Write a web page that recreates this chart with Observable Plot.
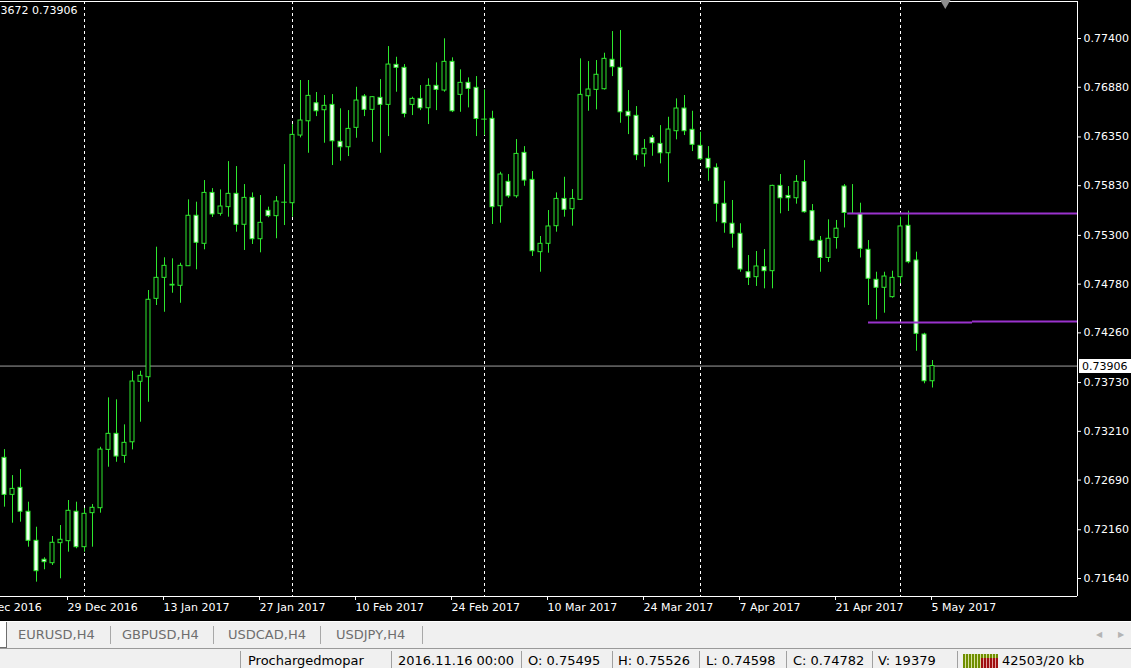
<!DOCTYPE html>
<html><head><meta charset="utf-8">
<script src="https://cdn.jsdelivr.net/npm/d3@7"></script>
<script src="https://cdn.jsdelivr.net/npm/@observablehq/plot@0.6"></script>
<style>
html,body{margin:0;padding:0;background:#000;overflow:hidden;width:1131px;height:668px;}
#chart{position:absolute;left:0;top:0;width:1131px;height:621px;background:#000;}
#tabs{position:absolute;left:0;top:621px;width:1131px;height:27px;background:#f0f0f0;font-family:"DejaVu Sans",sans-serif;font-size:13px;color:#6e6e6e;border-top:1px solid #ffffff;box-sizing:border-box;}
#tabs span{position:absolute;top:0;line-height:25px;white-space:nowrap;}
#tabs .sep{position:absolute;top:4px;width:1px;height:18px;background:#a8a8a8;}
#tabs .active{position:absolute;left:0;top:0;width:6px;height:25px;background:#fff;border-right:1px solid #6e6e6e;border-bottom:1px solid #6e6e6e;}
#tabs .arr{color:#b4b4b4;font-size:8px;}
#status{position:absolute;left:0;top:648px;width:1131px;height:20px;background:#f0f0f0;border-top:1px solid #9a9a9a;box-sizing:border-box;font-family:"DejaVu Sans",sans-serif;font-size:13px;color:#000;overflow:hidden;}
#status span{position:absolute;top:4px;line-height:15px;white-space:nowrap;}
#status .sep{position:absolute;top:2px;width:1px;height:20px;background:#a0a0a0;}
#status .icon{position:absolute;left:963px;top:5px;width:35px;height:15px;background:repeating-linear-gradient(90deg,#6f8f00 0 2px,#d8e0a0 2px 3px);}
#status .icon2{position:absolute;left:981px;top:9px;width:17px;height:11px;background:repeating-linear-gradient(90deg,#a01010 0 2px,#e0a0a0 2px 3px);}
</style></head>
<body>
<div id="chart"></div>
<div id="tabs">
  <div class="active"></div>
  <span style="left:18px">EURUSD,H4</span><div class="sep" style="left:110px"></div>
  <span style="left:122px">GBPUSD,H4</span><div class="sep" style="left:213px"></div>
  <span style="left:228px">USDCAD,H4</span><div class="sep" style="left:320px"></div>
  <span style="left:336px">USDJPY,H4</span><div class="sep" style="left:422px"></div>
  <span class="arr" style="left:1096px">◀</span><span class="arr" style="left:1118px">▶</span>
</div>
<div id="status">
  <div class="sep" style="left:240px"></div>
  <span style="left:248px">Prochargedmopar</span><div class="sep" style="left:391px"></div>
  <span style="left:398px">2016.11.16 00:00</span><div class="sep" style="left:521px"></div>
  <span style="left:528px">O: 0.75495</span><div class="sep" style="left:612px"></div>
  <span style="left:618px">H: 0.75526</span><div class="sep" style="left:699px"></div>
  <span style="left:706px">L: 0.74598</span><div class="sep" style="left:786px"></div>
  <span style="left:793px">C: 0.74782</span><div class="sep" style="left:872px"></div>
  <span style="left:878px">V: 19379</span><div class="sep" style="left:957px"></div>
  <div class="icon"></div><div class="icon2"></div>
  <span style="left:1002px">42503/20 kb</span>
</div>
<script>
// ---- Daily AUDUSD candles (bar index 0..116) ----
const open = [0.72927,0.72532,0.72607,0.72352,0.72042,0.71840,0.71803,0.72017,0.72038,0.72352,
0.71974,0.72337,0.72390,0.73012,0.73183,0.72948,0.73093,0.73738,0.73787,0.74623,
0.74847,0.74765,0.74762,0.74971,0.75509,0.75210,0.75753,0.75530,0.75601,0.75743,
0.75413,0.75700,0.75259,0.75562,0.75505,0.75651,0.75643,0.76365,0.76517,0.76709,
0.76635,0.76692,0.76298,0.76240,0.76447,0.76781,0.76639,0.76767,0.76692,0.77119,
0.77087,0.76692,0.76756,0.76656,0.76895,0.76845,0.77151,0.76799,0.76927,0.76874,
0.76543,0.76543,0.75611,0.75871,0.75717,0.76180,0.75892,0.75121,0.75210,0.75398,
0.75689,0.75579,0.75679,0.76784,0.76852,0.76859,0.77173,0.77087,0.76618,0.76575,
0.76165,0.76340,0.76276,0.76176,0.76411,0.76653,0.76426,0.76255,0.76116,0.76020,
0.75637,0.75424,0.75317,0.74907,0.74854,0.74961,0.74918,0.75828,0.75721,0.75696,
0.75869,0.75558,0.75242,0.75059,0.75272,0.75821,0.75537,0.75530,0.75146,0.74826,
0.74741,0.74641,0.74854,0.75402,0.75032,0.74242,0.73744];
const high = [0.73015,0.72738,0.72802,0.72454,0.72187,0.71861,0.72088,0.72205,0.72472,0.72454,
0.72387,0.72429,0.73040,0.73567,0.73546,0.73279,0.73851,0.73851,0.74712,0.75174,
0.75061,0.75050,0.75003,0.75679,0.75654,0.75885,0.75799,0.75785,0.76087,0.76034,
0.75842,0.75753,0.75725,0.75601,0.75714,0.76055,0.76482,0.76952,0.76952,0.76824,
0.76792,0.76802,0.76650,0.76631,0.76880,0.76802,0.76781,0.76962,0.77314,0.77200,
0.77122,0.76774,0.76898,0.76970,0.77140,0.77397,0.77194,0.77066,0.76980,0.76994,
0.76852,0.76624,0.75973,0.75949,0.76322,0.76247,0.75981,0.75288,0.75565,0.75753,
0.75920,0.75789,0.77183,0.77154,0.77165,0.77243,0.77474,0.77485,0.76845,0.76674,
0.76322,0.76365,0.76471,0.76560,0.76756,0.76792,0.76624,0.76400,0.76247,0.76063,
0.75877,0.75672,0.75424,0.75085,0.75128,0.75149,0.75835,0.75949,0.75821,0.75938,
0.76098,0.75629,0.75288,0.75466,0.75459,0.75842,0.75842,0.75643,0.75245,0.74907,
0.74907,0.74918,0.75494,0.75558,0.75121,0.74256,0.73965];
const low = [0.72401,0.72230,0.72241,0.71974,0.71601,0.71733,0.71779,0.71637,0.71921,0.71957,
0.71921,0.71974,0.72337,0.72827,0.72880,0.72869,0.73012,0.73307,0.73520,0.74552,
0.74480,0.74683,0.74576,0.74968,0.74933,0.75146,0.75491,0.75505,0.75494,0.75334,
0.75139,0.75203,0.75114,0.75488,0.75264,0.75405,0.75494,0.76340,0.76176,0.76567,
0.76283,0.76045,0.76091,0.76141,0.76336,0.76567,0.76293,0.76176,0.76354,0.76827,
0.76554,0.76578,0.76631,0.76482,0.76631,0.76827,0.76610,0.76613,0.76660,0.76354,
0.76365,0.75416,0.75430,0.75696,0.75696,0.75824,0.75075,0.74907,0.75110,0.75334,
0.75494,0.75398,0.75672,0.76624,0.76639,0.76850,0.76994,0.76496,0.76375,0.76098,
0.76027,0.76144,0.76063,0.75863,0.76319,0.76365,0.76194,0.76098,0.75877,0.75441,
0.75323,0.75163,0.74907,0.74765,0.74755,0.74730,0.74730,0.75530,0.75555,0.75633,
0.75537,0.75236,0.74907,0.75011,0.75153,0.75379,0.75530,0.75059,0.74552,0.74399,
0.74470,0.74630,0.74784,0.74997,0.74064,0.73717,0.73672];
const close = [0.72532,0.72596,0.72352,0.72042,0.71718,0.71814,0.72021,0.72053,0.72362,0.71974,
0.72330,0.72394,0.73015,0.73183,0.72941,0.73087,0.73741,0.73802,0.74613,0.74847,
0.74975,0.74773,0.74975,0.75509,0.75221,0.75753,0.75523,0.75608,0.75743,0.75413,
0.75700,0.75259,0.75434,0.75505,0.75661,0.75654,0.76372,0.76525,0.76788,0.76624,
0.76682,0.76304,0.76240,0.76436,0.76738,0.76639,0.76774,0.76692,0.77122,0.77087,
0.76596,0.76756,0.76656,0.76895,0.76852,0.77151,0.76624,0.76927,0.76863,0.76541,
0.76540,0.75601,0.75949,0.75717,0.76169,0.75885,0.75131,0.75210,0.75395,0.75689,
0.75573,0.75689,0.76799,0.76856,0.77013,0.77183,0.77094,0.76613,0.76571,0.76155,
0.76223,0.76283,0.76176,0.76429,0.76653,0.76411,0.76266,0.76112,0.76016,0.75637,
0.75430,0.75317,0.74936,0.74847,0.74968,0.74918,0.75828,0.75696,0.75696,0.75871,
0.75547,0.75245,0.75059,0.75264,0.75371,0.75539,0.75535,0.75157,0.74837,0.74741,
0.74861,0.74847,0.75395,0.75014,0.74250,0.73744,0.73906];

// x axis labels (bar index where each date label sits)
const tickBars = [-4, 8, 20, 32, 44, 56, 68, 80, 92, 104, 116];
const tickLabels = ["15 Dec 2016","29 Dec 2016","13 Jan 2017","27 Jan 2017","10 Feb 2017","24 Feb 2017",
                    "10 Mar 2017","24 Mar 2017","7 Apr 2017","21 Apr 2017","5 May 2017"];
// price scale labels
const yTicks = [0.77400,0.76880,0.76350,0.75830,0.75300,0.74780,0.74260,0.73730,0.73210,0.72690,0.72160,0.71640];
// monthly period separators (bar index)
const separatorBars = [10, 36, 60, 87, 112];
// horizontal lines drawn on chart
const levelFrom = [105.4, 108, 121];
const levelTo = [134.125, 121, 134.125];
const levelPrice = [0.75533, 0.74371, 0.74381];
const bid = 0.73906;
const shiftBar = 117.6;
const ohlcText = "3672 0.73906";

const xDomain = [-0.5, 134.125];
const yDomain = [0.71448, 0.7779467];

const candles = open.map((o, i) => ({i, o, h: high[i], l: low[i], c: close[i]}));
const bodies = candles.filter(d => Math.abs(d.o - d.c) >= 0.00004);
const dojis = candles.filter(d => Math.abs(d.o - d.c) < 0.00004);
const levels = levelPrice.map((p, i) => ({p, from: levelFrom[i], to: levelTo[i]}));
const labelOf = new Map(tickBars.map((b, i) => [b, tickLabels[i]]));

const green = "#2ee82e";
const plot = Plot.plot({
  width: 1131, height: 621,
  marginLeft: 0, marginRight: 54, marginTop: 1, marginBottom: 25,
  style: {background: "#000", color: "#fff", fontFamily: "DejaVu Sans, sans-serif", fontSize: "11px", overflow: "hidden"},
  x: {type: "linear", domain: xDomain, axis: null},
  y: {type: "linear", domain: yDomain, axis: null},
  marks: [
    Plot.ruleX(separatorBars, {stroke: "#fff", strokeDasharray: "3,3"}),
    Plot.ruleY([bid], {stroke: "#a0a0a0"}),
    Plot.ruleX(candles, {x: "i", y1: "l", y2: "h", stroke: green}),
    Plot.rect(bodies, {x1: d => d.i - 0.25, x2: d => d.i + 0.25, y1: d => Math.max(d.o, d.c), y2: d => Math.min(d.o, d.c),
      fill: d => d.c > d.o ? "#000" : "#f2fff2", stroke: green, strokeWidth: 1}),
    Plot.ruleY(dojis, {y: "c", x1: d => d.i - 0.35, x2: d => d.i + 0.35, stroke: green}),
    Plot.ruleY(levels, {y: "p", x1: "from", x2: "to", stroke: "#9a32cc", strokeWidth: 2}),
    Plot.ruleY([yDomain[0], yDomain[1]], {stroke: "#fff"}),
    Plot.ruleX([xDomain[1]], {stroke: "#fff"}),
    Plot.dot([shiftBar], {x: d => d, y: () => yDomain[1], symbol: "triangle", rotate: 180, r: 5.5, fill: "#8c8c8c", stroke: null, dy: -1}),
    Plot.text([ohlcText], {frameAnchor: "top-left", text: d => d, textAnchor: "start", lineAnchor: "top", dy: 5, fill: "#fff", fontSize: 11}),
    Plot.axisX({ticks: tickBars, tickFormat: d => labelOf.get(d), anchor: "bottom", tickSize: 4, tickPadding: 3,
      textAnchor: "start", dx: -1, label: null, stroke: "#fff", fill: "#fff"}),
    Plot.axisY({ticks: yTicks, tickFormat: d => d.toFixed(5), anchor: "right", tickSize: 3, tickPadding: 3,
      label: null, stroke: "#fff", fill: "#fff"})
  ]
});
document.getElementById("chart").appendChild(plot);

// current bid price label on the price scale
const xs = plot.scale("x"), ys = plot.scale("y");
const yb = ys.apply(bid), xr = xs.apply(xDomain[1]);
const svg = d3.select(plot);
svg.append("rect").attr("x", xr + 2).attr("y", Math.round(yb) - 7).attr("width", 54).attr("height", 14).attr("fill", "#fff");
svg.append("text").attr("x", xr + 5).attr("y", yb).attr("dy", "0.36em").attr("fill", "#000")
  .attr("text-anchor", "start")
  .attr("font-family", "DejaVu Sans, sans-serif").attr("font-size", 11).text(bid.toFixed(5));
</script>
</body></html>
